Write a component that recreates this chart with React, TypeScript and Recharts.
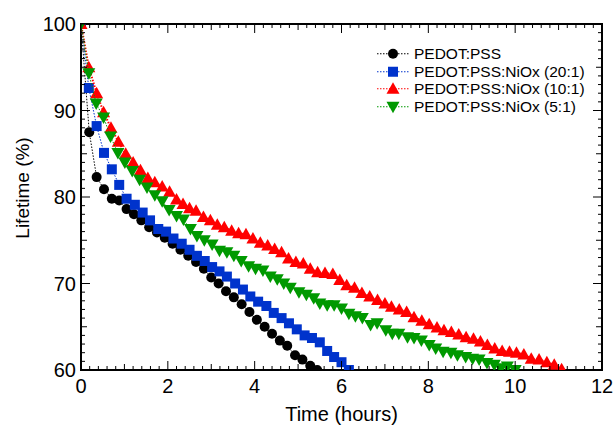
import React from 'react';
import { ScatterChart, Scatter, XAxis, YAxis, Legend, ReferenceArea } from 'recharts';

const FONT = '"Liberation Sans", Arial, Helvetica, sans-serif';

// PEDOT:PSS
const pssTime = [0, 0.19, 0.36, 0.53, 0.71, 0.88, 1.05, 1.22, 1.39, 1.57, 1.75, 1.93, 2.11, 2.29, 2.47, 2.65, 2.83, 3.0, 3.17, 3.34, 3.52, 3.7, 3.88, 4.05, 4.23, 4.4, 4.58, 4.75, 4.93, 5.1, 5.28, 5.44];
const pssLife = [100, 87.5, 82.3, 80.9, 79.8, 79.6, 78.6, 78.0, 77.3, 76.5, 75.9, 75.3, 74.6, 73.9, 73.2, 72.5, 71.7, 70.7, 70.0, 69.1, 68.4, 67.6, 66.7, 65.8, 65.0, 64.2, 63.4, 62.8, 61.7, 61.2, 60.5, 60.0];

// PEDOT:PSS:NiOx (20:1)
const nio20Time = [0, 0.18, 0.36, 0.53, 0.71, 0.88, 1.05, 1.24, 1.42, 1.59, 1.78, 1.96, 2.13, 2.32, 2.5, 2.67, 2.85, 3.02, 3.19, 3.36, 3.55, 3.73, 3.9, 4.08, 4.27, 4.44, 4.62, 4.79, 4.97, 5.15, 5.32, 5.5, 5.67, 5.83, 6.0, 6.17];
const nio20Life = [100, 92.6, 88.2, 85.1, 83.2, 81.4, 79.8, 79.1, 78.2, 77.3, 76.3, 76.0, 75.2, 74.6, 73.9, 73.2, 72.6, 71.9, 71.4, 70.8, 70.0, 69.3, 68.5, 67.9, 67.4, 66.6, 66.0, 65.4, 64.7, 64.0, 63.7, 63.2, 62.2, 61.5, 60.9, 60.0];

// PEDOT:PSS:NiOx (10:1)
const nio10Time = [0, 0.18, 0.36, 0.52, 0.69, 0.86, 1.03, 1.2, 1.37, 1.54, 1.7, 1.87, 2.04, 2.2, 2.35, 2.5, 2.65, 2.82, 2.98, 3.14, 3.3, 3.47, 3.63, 3.8, 3.96, 4.13, 4.3, 4.46, 4.62, 4.78, 4.95, 5.12, 5.28, 5.45, 5.62, 5.8, 5.96, 6.12, 6.3, 6.47, 6.65, 6.83, 7.0, 7.15, 7.33, 7.5, 7.67, 7.85, 8.02, 8.2, 8.36, 8.53, 8.7, 8.87, 9.04, 9.2, 9.36, 9.53, 9.7, 9.87, 10.03, 10.2, 10.37, 10.55, 10.73, 10.9, 11.07];
const nio10Life = [100, 95.0, 92.0, 89.8, 88.0, 86.4, 85.0, 84.0, 83.1, 82.2, 81.7, 81.2, 80.6, 79.7, 79.2, 78.7, 78.4, 77.7, 77.3, 76.8, 76.5, 76.1, 75.8, 75.7, 75.2, 74.7, 74.4, 74.0, 73.6, 72.9, 72.5, 72.3, 71.7, 71.3, 71.2, 71.1, 70.4, 69.8, 69.5, 68.9, 68.5, 68.1, 67.7, 67.3, 67.0, 66.7, 66.1, 65.7, 65.3, 64.9, 64.6, 64.4, 64.1, 63.8, 63.6, 63.3, 62.9, 62.5, 62.2, 62.1, 62.0, 61.8, 61.3, 61.2, 60.9, 60.6, 60.1];

// PEDOT:PSS:NiOx (5:1)
const nio5Time = [0, 0.18, 0.35, 0.52, 0.68, 0.85, 1.01, 1.18, 1.35, 1.52, 1.7, 1.87, 2.03, 2.2, 2.36, 2.52, 2.67, 2.84, 3.02, 3.19, 3.36, 3.52, 3.69, 3.86, 4.02, 4.19, 4.36, 4.52, 4.67, 4.82, 5.02, 5.19, 5.36, 5.5, 5.67, 5.83, 6.0, 6.17, 6.32, 6.48, 6.67, 6.82, 7.02, 7.17, 7.32, 7.52, 7.67, 7.84, 8.02, 8.17, 8.34, 8.52, 8.67, 8.86, 9.02, 9.17, 9.35, 9.52, 9.67, 9.82, 10.0];
const nio5Life = [100, 94.3, 90.8, 89.2, 87.0, 85.1, 84.0, 83.0, 82.0, 81.1, 80.2, 79.5, 78.5, 77.8, 77.4, 76.3, 75.5, 75.0, 74.5, 73.8, 73.6, 73.2, 72.6, 72.0, 71.7, 71.5, 70.8, 70.5, 70.0, 69.5, 69.0, 68.7, 68.3, 67.7, 67.5, 67.5, 67.1, 66.5, 66.2, 66.0, 65.2, 65.4, 64.6, 64.2, 64.2, 63.8, 63.7, 63.4, 62.9, 62.5, 62.1, 62.0, 61.7, 61.5, 61.3, 61.2, 60.8, 60.6, 60.2, 60.4, 60.0];

// Axis ticks
const xMajorTicks = [0, 2, 4, 6, 8, 10, 12];
const xMidTicks = [1, 3, 5, 7, 9, 11];
const xAllTicks = Array.from({ length: 61 }, (_, i) => Math.round(i * 2) / 10);
const yMajorTicks = [60, 70, 80, 90, 100];
const yMidTicks = [65, 75, 85, 95];
const yAllTicks = Array.from({ length: 41 }, (_, i) => 60 + i);

const X_DOMAIN: [number, number] = [0, 12];
const Y_DOMAIN: [number, number] = [60, 100];

// layout
const W = 615;
const H = 425;
const M = { top: 24, right: 13, bottom: 0, left: 0 };
const Y_AXIS_W = 81;
const X_AXIS_H = 55;
const PLOT_W = W - M.left - M.right - Y_AXIS_W;
const PLOT_H = H - M.top - M.bottom - X_AXIS_H;

const zip = (t: number[], v: number[]) => t.map((x, i) => ({ t: x, v: v[i] }));

type Shape = 'circle' | 'square' | 'up' | 'down';

const SERIES: { name: string; color: string; shape: Shape; data: { t: number; v: number }[]; lw: number }[] = [
  { name: 'PEDOT:PSS', color: '#000000', shape: 'circle', data: zip(pssTime, pssLife), lw: 1 },
  { name: 'PEDOT:PSS:NiOx (20:1)', color: '#0033cc', shape: 'square', data: zip(nio20Time, nio20Life), lw: 1 },
  { name: 'PEDOT:PSS:NiOx (10:1)', color: '#ff0000', shape: 'up', data: zip(nio10Time, nio10Life), lw: 2 },
  { name: 'PEDOT:PSS:NiOx (5:1)', color: '#009900', shape: 'down', data: zip(nio5Time, nio5Life), lw: 1 },
];

function marker(shape: Shape, cx: number, cy: number, color: string, s = 1) {
  if (shape === 'circle') return <circle cx={cx} cy={cy} r={5 * s} fill={color} />;
  if (shape === 'square') return <rect x={cx - 5 * s} y={cy - 5 * s} width={10 * s} height={10 * s} fill={color} />;
  if (shape === 'up')
    return <polygon points={`${cx},${cy - 6.5 * s} ${cx + 6.5 * s},${cy + 5 * s} ${cx - 6.5 * s},${cy + 5 * s}`} fill={color} />;
  return <polygon points={`${cx},${cy + 6.5 * s} ${cx + 6.5 * s},${cy - 5 * s} ${cx - 6.5 * s},${cy - 5 * s}`} fill={color} />;
}

const LegendContent = () => (
  <div style={{ fontFamily: FONT, fontSize: 15.5, color: '#000' }}>
    {SERIES.map((s) => (
      <div key={s.name} style={{ display: 'flex', alignItems: 'center', height: 17.5 }}>
        <svg width={32} height={17.5} style={{ display: 'block' }}>
          <line x1={0} x2={32} y1={8.75} y2={8.75} stroke={s.color} strokeWidth={1} strokeDasharray="1.5 1.5" />
          {marker(s.shape, 16, 8.75, s.color)}
        </svg>
        <span style={{ marginLeft: 5, whiteSpace: 'nowrap', lineHeight: '17.5px' }}>{s.name}</span>
      </div>
    ))}
  </div>
);

const YTitle = (props: any) => {
  const vb = props.viewBox || { x: 0, y: 0, width: 0, height: 0 };
  const cx = vb.x + 22;
  const cy = vb.y + vb.height / 2 - 9;
  return (
    <text
      x={cx}
      y={cy}
      transform={`rotate(-90 ${cx} ${cy})`}
      textAnchor="middle"
      dominantBaseline="central"
      fontSize={19}
      fill="#000"
      fontFamily={FONT}
    >
      Lifetime (%)
    </text>
  );
};

const tickLen = (v: number, major: number[], mid: number[]) =>
  major.some((m) => Math.abs(m - v) < 1e-6) ? 9 : mid.some((m) => Math.abs(m - v) < 1e-6) ? 6 : 4;

const XTick = (props: any) => {
  const { x, y, payload } = props;
  const v = payload.value;
  const len = tickLen(v, xMajorTicks, xMidTicks);
  const isMajor = len === 9;
  return (
    <g>
      <line x1={x} x2={x} y1={y} y2={y - len} stroke="#000" strokeWidth={1} />
      <line x1={x} x2={x} y1={y - PLOT_H} y2={y - PLOT_H + len} stroke="#000" strokeWidth={1} />
      {isMajor && (
        <text x={x} y={y + 9} dy="0.72em" textAnchor="middle" fontSize={20} fill="#000" fontFamily={FONT}>
          {v}
        </text>
      )}
    </g>
  );
};

const YTick = (props: any) => {
  const { x, y, payload } = props;
  const v = payload.value;
  const len = tickLen(v, yMajorTicks, yMidTicks);
  const isMajor = len === 9;
  return (
    <g>
      <line x1={x} x2={x + len} y1={y} y2={y} stroke="#000" strokeWidth={1} />
      <line x1={x + PLOT_W} x2={x + PLOT_W - len} y1={y} y2={y} stroke="#000" strokeWidth={1} />
      {isMajor && (
        <text x={x - 5} y={y} dy="0.36em" textAnchor="end" fontSize={20} fill="#000" fontFamily={FONT}>
          {v}
        </text>
      )}
    </g>
  );
};

export default function App() {
  return (
    <div style={{ position: 'absolute', left: 0, top: 0, width: W, height: H, background: '#fff', fontFamily: FONT }}>
      <ScatterChart width={W} height={H} margin={M}>
        <XAxis
          xAxisId="b"
          dataKey="t"
          type="number"
          domain={X_DOMAIN}
          allowDataOverflow
          ticks={xAllTicks}
          interval={0}
          height={X_AXIS_H}
          tickSize={0}
          tickMargin={0}
          tickLine={false}
          axisLine={{ stroke: '#000', strokeWidth: 2 }}
          tick={<XTick />}
          label={{ value: 'Time (hours)', position: 'insideBottom', offset: 4, fontSize: 20, fill: '#000', fontFamily: FONT }}
        />
        <YAxis
          yAxisId="l"
          dataKey="v"
          type="number"
          domain={Y_DOMAIN}
          allowDataOverflow
          ticks={yAllTicks}
          interval={0}
          width={Y_AXIS_W}
          tickSize={0}
          tickMargin={0}
          tickLine={false}
          axisLine={{ stroke: '#000', strokeWidth: 2 }}
          tick={<YTick />}
          label={{ content: YTitle }}
        />
        <ReferenceArea
          xAxisId="b"
          yAxisId="l"
          x1={0}
          x2={12}
          y1={60}
          y2={100}
          fill="none"
          fillOpacity={0}
          stroke="#000"
          strokeWidth={2}
          ifOverflow="visible"
        />
        {SERIES.map((s) => (
          <Scatter
            key={s.name}
            name={s.name}
            data={s.data}
            xAxisId="b"
            yAxisId="l"
            fill={s.color}
            isAnimationActive={false}
            line={{ stroke: s.color, strokeWidth: s.lw, strokeDasharray: '1.5 1.5' }}
            lineType="joint"
            shape={(p: any) => marker(s.shape, p.cx, p.cy, s.color)}
          />
        ))}
        <Legend
          layout="vertical"
          align="center"
          verticalAlign="middle"
          content={<LegendContent />}
          wrapperStyle={{ left: 377, top: 45, width: 'auto', height: 'auto' }}
        />
      </ScatterChart>
    </div>
  );
}
